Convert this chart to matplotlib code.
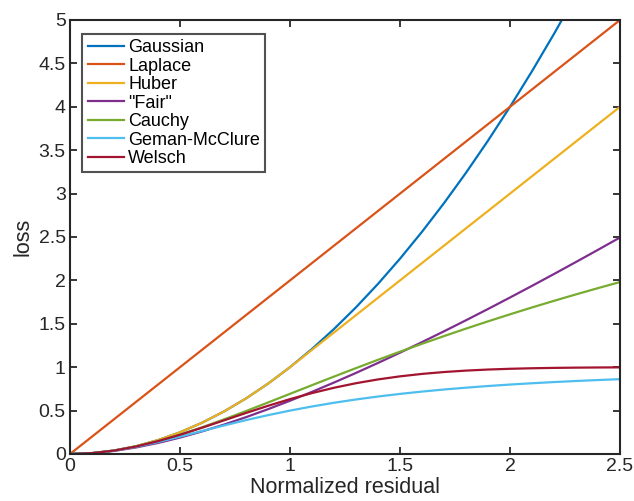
import matplotlib
matplotlib.use("Agg")
import matplotlib.pyplot as plt

plt.rcParams['font.family'] = ['Liberation Sans', 'DejaVu Sans']

x = [0.0, 0.1, 0.2, 0.3, 0.4, 0.5, 0.6, 0.7, 0.8, 0.9, 1.0, 1.1, 1.2,
     1.3, 1.4, 1.5, 1.6, 1.7, 1.8, 1.9, 2.0, 2.1, 2.2, 2.3, 2.4, 2.5]

gaussian = [0, .01, .04, .09, .16, .25, .36, .49, .64, .81, 1.0, 1.21, 1.44,
            1.69, 1.96, 2.25, 2.56, 2.89, 3.24, 3.61, 4.0, 4.41, 4.84, 5.29, 5.76, 6.25]
laplace = [0, .2, .4, .6, .8, 1.0, 1.2, 1.4, 1.6, 1.8, 2.0, 2.2, 2.4,
           2.6, 2.8, 3.0, 3.2, 3.4, 3.6, 3.8, 4.0, 4.2, 4.4, 4.6, 4.8, 5.0]
huber = [0, .01, .04, .09, .16, .25, .36, .49, .64, .81, 1.0, 1.2, 1.4,
         1.6, 1.8, 2.0, 2.2, 2.4, 2.6, 2.8, 3.0, 3.2, 3.4, 3.6, 3.8, 4.0]
fair = [0, .0094, .0354, .0753, .1271, .1891, .2600, .3387, .4244, .5163, .6137,
        .7161, .8231, .9342, 1.0491, 1.1674, 1.2890, 1.4135, 1.5408, 1.6706,
        1.8028, 1.9372, 2.0737, 2.2122, 2.3524, 2.4945]
cauchy = [0, .0100, .0392, .0862, .1484, .2231, .3075, .3988, .4947, .5933, .6931,
          .7930, .8920, .9895, 1.0852, 1.1787, 1.2698, 1.3584, 1.4446, 1.5282,
          1.6094, 1.6883, 1.7647, 1.8390, 1.9110, 1.9810]
geman = [0, .0099, .0385, .0826, .1379, .2000, .2647, .3289, .3902, .4475, .5000,
         .5475, .5902, .6283, .6622, .6923, .7191, .7429, .7642, .7831, .8000,
         .8152, .8288, .8410, .8521, .8621]
welsch = [0, .0100, .0392, .0861, .1479, .2212, .3023, .3874, .4727, .5551, .6321,
          .7018, .7631, .8155, .8591, .8946, .9227, .9444, .9608, .9730, .9817,
          .9878, .9921, .9950, .9969, .9981]

labels = ['Gaussian', 'Laplace', 'Huber', '"Fair"', 'Cauchy', 'Geman-McClure', 'Welsch']
series = [gaussian, laplace, huber, fair, cauchy, geman, welsch]
colors = ['#0072BD', '#D95319', '#EDB120', '#7E2F8E', '#77AC30', '#4DBEEE', '#A2142F']

xticks = [0, 0.5, 1, 1.5, 2, 2.5]
xticklabels = ['0', '0.5', '1', '1.5', '2', '2.5']
yticks = [0, 0.5, 1, 1.5, 2, 2.5, 3, 3.5, 4, 4.5, 5]
yticklabels = ['0', '0.5', '1', '1.5', '2', '2.5', '3', '3.5', '4', '4.5', '5']

fig = plt.figure(figsize=(6.34, 5.01), dpi=100)
ax = fig.add_axes([70/634, 1 - 454/501, 550/634, 434/501])

for y, lab, c in zip(series, labels, colors):
    ax.plot(x, y, color=c, lw=1.6, label=lab)

ax.set_xlim(0, 2.5)
ax.set_ylim(0, 5)
ax.set_xticks(xticks)
ax.set_xticklabels(xticklabels)
ax.set_yticks(yticks)
ax.set_yticklabels(yticklabels)
ax.tick_params(direction='in', top=True, right=True, length=5, width=1.3,
               labelsize=14, colors='#262626', pad=3)
for s in ax.spines.values():
    s.set_linewidth(1.5)
    s.set_color('#262626')

ax.set_xlabel('Normalized residual', fontsize=15.5, color='#262626', labelpad=1.5)
ax.set_ylabel('loss', fontsize=15.5, color='#262626', labelpad=4)

leg = ax.legend(loc='upper left', bbox_to_anchor=(0.022, 0.968), fontsize=13,
                frameon=True, fancybox=False, borderpad=0.3, labelspacing=0.08,
                handlelength=2.0, handletextpad=0.25, borderaxespad=0)
leg.get_frame().set_edgecolor('#262626')
leg.get_frame().set_linewidth(1.5)

fig.savefig('out.png', dpi=100)
